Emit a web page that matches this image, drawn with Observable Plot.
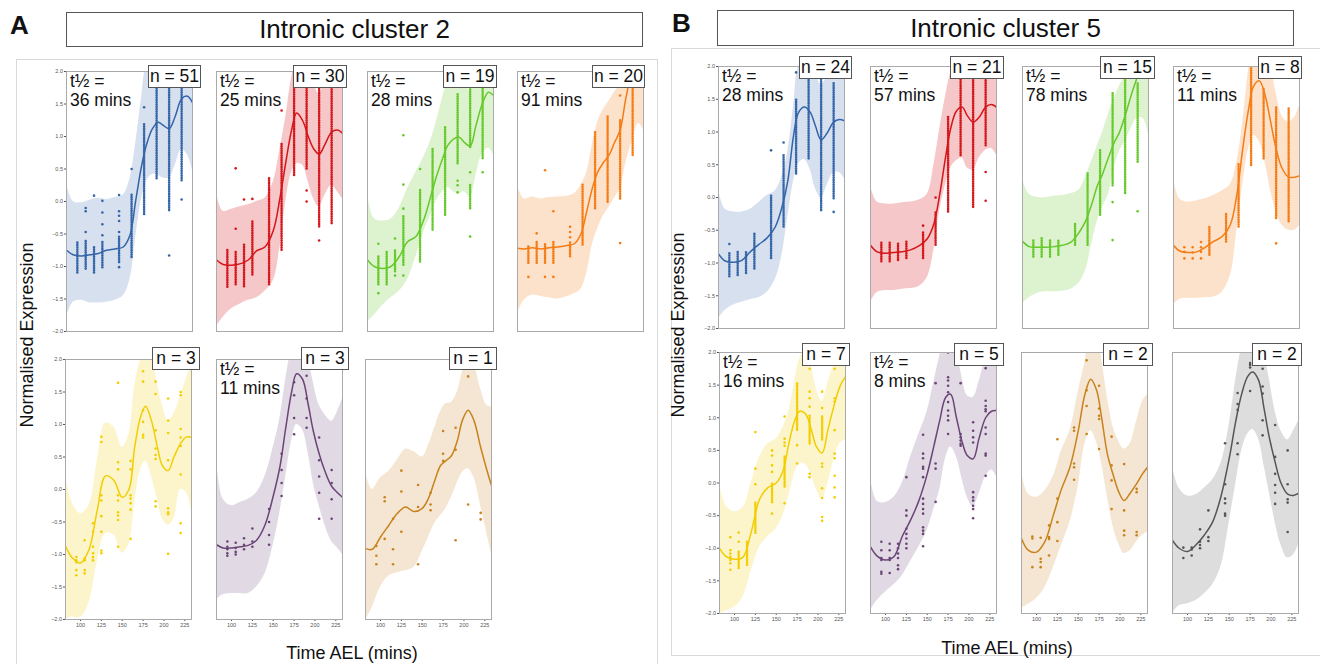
<!DOCTYPE html>
<html><head><meta charset="utf-8">
<script src="https://cdn.jsdelivr.net/npm/d3@7"></script>
<script src="https://cdn.jsdelivr.net/npm/@observablehq/plot@0.6"></script>
<style>
html,body{margin:0;padding:0;background:#fff;}
#root{position:relative;width:1320px;height:664px;overflow:hidden;font-family:"Liberation Sans",Arial,sans-serif;color:#111;}
.abs{position:absolute;}
.nb{position:absolute;height:21px;line-height:21px;background:#fff;border:1px solid #555;font-size:17.5px;text-align:center;box-sizing:content-box;}
.th{position:absolute;font-size:17.5px;line-height:19px;white-space:pre;}
.title{position:absolute;border:1px solid #555;font-size:26px;text-align:center;box-sizing:border-box;}
.letter{position:absolute;font-size:26px;font-weight:bold;line-height:26px;}
.ylab{position:absolute;width:300px;height:22px;line-height:22px;font-size:18px;text-align:center;transform:rotate(-90deg);}
.xlab{position:absolute;width:300px;line-height:18px;font-size:18px;text-align:center;}
.pborder{position:absolute;border:1px solid #d9d9d9;box-sizing:border-box;}
</style>
</head><body><div id="root"></div>
<script>
// ---------- shared axes / knots ----------
const knots = [82,90,100,110,120,130,140,150,158,165,172,178,185,192,198,205,212,220,227,233];
const xTicks = [100,125,150,175,200,225];
const yTicks = [-2,-1.5,-1,-0.5,0,0.5,1,1.5,2];
const titles = ["Intronic cluster 2","Intronic cluster 5"];
const nLabels = ["n = 51","n = 30","n = 19","n = 20","n = 3","n = 3","n = 1","n = 24","n = 21","n = 15","n = 8","n = 7","n = 5","n = 2","n = 2"];
const halfLives = ["36 mins","25 mins","28 mins","91 mins","","11 mins","","28 mins","57 mins","78 mins","11 mins","16 mins","8 mins","",""];

// ---------- Panel A ----------
const A1_mean = [-0.75,-0.82,-0.84,-0.82,-0.80,-0.75,-0.73,-0.70,-0.52,0.02,0.55,0.88,1.12,1.22,1.17,1.12,1.30,1.58,1.62,1.52];
const A1_lo = [-1.78,-1.55,-1.52,-1.56,-1.56,-1.55,-1.52,-1.45,-1.2,-0.55,0.05,0.32,0.42,0.40,0.36,0.36,0.55,0.80,0.72,0.48];
const A1_hi = [0.3,0.0,-0.02,0.02,0.05,0.03,0.06,0.1,0.35,0.9,1.6,2.1,2.2,2.1,2.0,1.95,2.1,2.4,2.5,2.6];
const A1_cols = [[95,-1.1,-0.62],[105,-1.04,-0.6],[115,-1.1,-0.7],[125,-1.02,-0.6],[145,-0.94,-0.55],[160,-0.86,0.1],[175,-0.2,1.2],[190,0.35,2.0],[205,-0.14,2.0],[220,0.32,2.0]];
const A1_pts = [[105,-0.1,-0.15,-0.47],[115,0.09],[125,0.01,-0.17,-0.35,-0.52],[145,0.1,-0.15,-0.22,-0.3,-0.47,-1.01],[160,0.5],[175,1.45],[205,-0.83],[220,0.03]];

const A2_mean = [-0.90,-0.97,-0.98,-0.96,-0.90,-0.76,-0.70,-0.45,0.05,0.6,1.1,1.36,1.25,1.0,0.82,0.73,0.88,1.07,1.1,1.05];
const A2_lo = [-1.92,-1.78,-1.65,-1.58,-1.52,-1.48,-1.38,-1.22,-0.7,0.0,0.45,0.58,0.56,0.3,0.05,-0.08,0.1,0.25,0.15,0.04];
const A2_hi = [0.12,-0.15,-0.12,-0.08,-0.05,0.0,0.05,0.3,0.8,1.3,1.9,2.2,2.2,2.05,1.85,1.65,1.9,2.15,2.1,2.1];
const A2_cols = [[95,-1.32,-0.72],[105,-1.28,-0.77],[115,-1.31,-0.65],[125,-1.13,-0.31],[145,-1.28,0.38],[160,-0.75,0.89],[175,0.4,2.0],[190,0.5,2.0],[205,-0.39,2.0],[220,-0.34,1.83]];
const A2_pts = [[105,-0.42,0.51],[115,0.03],[125,0.04],[160,1.4],[190,0.17,0.0],[205,-0.6]];

const A3_mean = [-0.90,-1.0,-1.03,-1.0,-0.85,-0.62,-0.54,-0.26,0.09,0.40,0.66,0.86,0.96,0.99,0.91,0.85,1.17,1.52,1.68,1.63];
const A3_lo = [-1.85,-1.75,-1.6,-1.48,-1.38,-1.2,-0.85,-0.45,-0.2,0.02,0.15,0.22,0.15,0.12,0.15,0.07,0.4,0.75,0.82,0.72];
const A3_hi = [0.12,-0.26,-0.3,-0.27,-0.1,0.2,0.45,0.7,0.95,1.25,1.6,1.85,2.0,1.95,1.85,1.7,1.95,2.3,2.5,2.5];
const A3_cols = [[95,-1.28,-0.82],[105,-1.28,-0.77],[115,-1.08,-0.75],[125,-0.98,-0.21],[145,-0.93,0.2],[160,-0.44,0.81],[175,-0.21,1.17],[190,0.58,1.65],[205,0.83,1.8],[205,-0.11,0.25],[220,0.66,1.98]];
const A3_pts = [[95,-0.65,-1.41],[115,-0.57,-1.14],[125,-0.11,0.26,1.02,-1.14],[145,0.5],[190,0.32,0.25,0.14],[205,0.45,-0.54],[220,0.45]];

const A4_mean = [-0.72,-0.73,-0.71,-0.73,-0.71,-0.70,-0.68,-0.65,-0.5,-0.15,0.22,0.45,0.6,0.72,0.9,1.1,1.6,2.05,2.3,2.4];
const A4_lo = [-1.72,-1.52,-1.44,-1.46,-1.48,-1.5,-1.47,-1.42,-1.35,-1.1,-0.65,-0.42,-0.22,-0.08,0.05,0.2,0.6,0.95,1.2,1.1];
const A4_hi = [0.25,0.04,0.07,0.04,0.06,0.07,0.08,0.12,0.25,0.45,0.9,1.22,1.42,1.55,1.68,1.8,2.2,2.6,2.8,2.9];
const A4_cols = [[95,-0.95,-0.67],[105,-0.95,-0.6],[115,-0.95,-0.65],[125,-0.95,-0.6],[145,-0.85,-0.62],[160,-0.67,0.25],[175,-0.11,1.07],[190,-0.01,1.3],[205,0.04,1.27],[220,0.71,1.98]];
const A4_pts = [[95,-1.16],[105,-0.49],[115,-1.16,0.48],[125,-1.16,-0.15],[145,-0.39,-0.47,-0.55],[205,-0.64,1.63]];

const A5_mean = [-0.87,-1.05,-1.13,-0.93,-0.32,0.21,0.14,-0.12,0.0,0.66,1.12,1.28,1.06,0.66,0.37,0.29,0.5,0.71,0.81,0.8];
const A5_lo = [-1.99,-1.96,-1.97,-1.75,-1.12,-0.68,-0.70,-0.98,-0.84,-0.2,0.3,0.44,0.2,-0.15,-0.45,-0.55,-0.45,0.0,-0.05,-0.35];
const A5_hi = [0.25,-0.2,-0.37,-0.25,0.44,1.02,0.96,0.65,0.85,1.6,2.0,2.15,2.0,1.65,1.3,1.06,1.17,1.45,1.72,1.94];
const A5_cols = [];
const A5_pts = [[95,-1.04,-1.09,-1.12,-1.24,-1.32],[105,-0.78,-1.06,-1.09,-1.24,-1.29],[115,-0.52,-0.65,-0.88,-0.98,-1.04,-1.09],[125,0.81,0.73,-0.09,-0.17,-0.41,-0.65,-0.94,-0.98],[145,1.64,0.42,0.31,-0.09,-0.17,-0.35,-0.4,-0.47,-0.88],[160,0.44,0.31,-0.09,-0.14,-0.21,-0.31,-0.76],[175,1.82,1.66,1.22,1.04,0.84,0.8],[190,1.66,1.47,0.91,0.63,0.53,0.47,-0.18,-0.26],[205,1.4,1.06,0.87,0.45,-0.29,-0.35,-0.38,-0.99],[220,1.5,1.45,0.93,0.8,0.67,0.23,-0.52,-0.67]];

const A6_mean = [-0.85,-0.9,-0.9,-0.88,-0.86,-0.78,-0.55,-0.1,0.35,0.95,1.5,1.78,1.7,1.3,0.9,0.55,0.28,0.05,-0.05,-0.12];
const A6_lo = [-1.7,-1.62,-1.6,-1.6,-1.6,-1.5,-1.3,-0.85,-0.35,0.2,0.75,1.0,0.92,0.55,0.1,-0.25,-0.55,-0.8,-0.9,-1.0];
const A6_hi = [0.5,-0.15,-0.25,-0.2,-0.15,-0.05,0.2,0.65,1.1,1.7,2.2,2.5,2.45,2.05,1.65,1.3,1.15,1.05,1.2,1.4];
const A6_cols = [];
const A6_pts = [[95,-0.8,-0.88,-0.92,-0.98,-1.02],[105,-0.82,-0.9,-0.96,-1.0],[115,-0.75,-0.85,-0.92],[125,-0.6,-0.8,-0.88],[145,-0.3,-0.5,-0.7,-0.85],[160,0.1,0.3,-0.1,0.55],[175,1.1,1.45,0.85,1.65],[190,1.75,1.4,1.1,0.95],[205,0.8,0.45,0.2,-0.05,-0.45],[220,0.3,0.1,-0.15,-0.45]];

const A7_mean = [-0.91,-0.92,-0.73,-0.55,-0.37,-0.27,-0.34,-0.29,-0.12,0.14,0.37,0.44,0.52,0.75,1.06,1.22,1.06,0.65,0.32,0.06];
const A7_lo = [-2.01,-1.82,-1.5,-1.33,-1.28,-1.25,-1.2,-0.95,-0.72,-0.52,-0.4,-0.3,-0.12,0.1,0.26,0.32,0.18,-0.25,-0.65,-0.99];
const A7_hi = [0.29,0.0,0.18,0.28,0.45,0.62,0.58,0.5,0.7,0.95,1.2,1.32,1.34,1.5,1.8,2.05,1.92,1.55,1.3,1.27];
const A7_cols = [];
const A7_pts = [[95,-0.87,-1.02,-1.15],[105,-0.12,-0.18,-0.76],[115,-0.45,-0.92,-1.15],[125,0.29,-0.03,-0.65],[145,0.07,-0.27,-1.15],[160,-0.05,-0.23,-0.32],[175,0.9,0.55,0.44],[190,0.95,0.61,-0.78],[205,1.74,-0.23],[220,-0.36,-0.46]];

// ---------- Panel B ----------
const B1_mean = [-0.86,-0.97,-0.99,-0.96,-0.83,-0.72,-0.62,-0.45,-0.15,0.25,0.95,1.3,1.38,1.3,1.1,0.88,0.98,1.15,1.19,1.17];
const B1_lo = [-1.85,-1.72,-1.64,-1.6,-1.56,-1.53,-1.45,-1.25,-0.88,-0.3,0.25,0.52,0.58,0.42,0.14,-0.01,0.18,0.38,0.38,0.28];
const B1_hi = [0.13,-0.18,-0.22,-0.22,-0.18,-0.08,0.03,0.1,0.32,0.7,1.4,2.0,2.1,2.05,1.9,1.72,1.85,2.1,2.1,2.1];
const B1_cols = [[95,-1.21,-0.83],[105,-1.19,-0.83],[115,-1.16,-0.81],[125,-1.09,-0.53],[145,-0.93,0.03],[160,-0.45,0.64],[175,0.36,1.5],[190,0.59,1.81],[205,-0.2,1.81],[220,-0.02,1.76]];
const B1_pts = [[95,-0.71],[145,0.72],[160,0.84],[175,1.91],[220,-0.22]];

const B2_mean = [-0.73,-0.83,-0.85,-0.84,-0.83,-0.8,-0.74,-0.63,-0.4,0.05,0.62,1.05,1.32,1.38,1.25,1.15,1.22,1.38,1.42,1.38];
const B2_lo = [-1.6,-1.45,-1.42,-1.42,-1.4,-1.39,-1.36,-1.22,-0.8,-0.2,0.2,0.45,0.56,0.6,0.45,0.42,0.6,0.72,0.75,0.65];
const B2_hi = [0.18,-0.07,-0.1,-0.1,-0.08,-0.07,-0.04,0.05,0.5,1.05,1.55,1.9,2.1,2.15,2.1,2.0,2.1,2.2,2.2,2.2];
const B2_cols = [[95,-0.98,-0.68],[105,-0.98,-0.68],[115,-0.96,-0.68],[125,-0.93,-0.68],[145,-0.93,-0.53],[160,-0.73,-0.22],[175,-0.22,1.22],[190,0.64,1.81],[205,-0.15,1.85],[220,0.79,1.81]];
const B2_pts = [[145,-0.43],[160,0.0],[220,0.39,-0.05]];

const B3_mean = [-0.67,-0.75,-0.76,-0.76,-0.75,-0.73,-0.68,-0.53,-0.35,-0.1,0.19,0.36,0.61,0.84,0.99,1.25,1.55,1.86,2.15,2.4];
const B3_lo = [-1.62,-1.53,-1.46,-1.44,-1.44,-1.43,-1.4,-1.3,-1.1,-0.7,-0.35,-0.15,0.05,0.45,0.7,0.86,1.05,1.22,1.2,0.95];
const B3_hi = [0.28,0.05,0.0,0.0,0.02,0.03,0.06,0.12,0.33,0.56,0.8,1.0,1.28,1.52,1.7,1.85,2.0,2.3,2.6,2.9];
const B3_cols = [[95,-0.91,-0.63],[105,-0.91,-0.6],[115,-0.91,-0.63],[125,-0.88,-0.65],[145,-0.73,-0.38],[160,-0.73,0.36],[175,-0.27,0.72],[190,0.18,1.6],[205,0.06,1.81],[220,0.54,1.76]];
const B3_pts = [[190,-0.07,-0.65],[220,-0.21]];

const B4_mean = [-0.73,-0.82,-0.84,-0.83,-0.76,-0.67,-0.6,-0.42,0.05,0.75,1.35,1.7,1.78,1.55,1.18,0.74,0.45,0.31,0.31,0.33];
const B4_lo = [-1.64,-1.55,-1.54,-1.54,-1.53,-1.52,-1.45,-1.2,-0.5,0.2,0.75,0.95,0.85,0.52,0.13,-0.22,-0.42,-0.5,-0.5,-0.43];
const B4_hi = [0.28,-0.03,-0.07,-0.05,-0.02,0.03,0.1,0.2,0.55,1.15,1.95,2.4,2.6,2.5,2.05,1.6,1.25,1.15,1.22,1.4];
const B4_cols = [[125,-0.88,-0.43],[145,-0.68,-0.25],[160,-0.45,0.5],[175,0.49,2.0],[190,0.59,1.65],[205,-0.32,1.38],[220,-0.37,1.38]];
const B4_pts = [[95,-0.76,-0.83,-0.93],[105,-0.76,-0.84,-0.93],[115,-0.68,-0.76,-0.83,-0.93],[205,-0.7]];

const B5_mean = [-1.0,-1.13,-1.17,-1.14,-0.75,-0.25,-0.07,0.0,0.18,0.6,0.95,1.1,1.06,0.82,0.56,0.46,0.82,1.22,1.5,1.63];
const B5_lo = [-2.0,-1.96,-1.9,-1.75,-1.35,-0.98,-0.82,-0.7,-0.5,-0.2,0.15,0.3,0.28,0.12,-0.1,-0.25,0.0,0.4,0.62,0.66];
const B5_hi = [0.0,-0.35,-0.44,-0.38,0.0,0.4,0.6,0.68,0.85,1.1,1.55,1.9,2.05,1.8,1.45,1.25,1.55,1.85,2.15,2.3];
const B5_cols = [[105,-1.31,-1.03],[115,-1.26,-0.88],[125,-0.77,-0.31],[145,-0.3,0.0],[160,-0.06,0.4],[175,0.81,1.55],[190,0.6,1.04],[205,0.66,1.02]];
const B5_pts = [[95,-0.83,-1.03,-1.08,-1.13,-1.18,-1.23,-1.33],[105,-0.76,-0.9],[125,0.78,0.22,-0.02],[145,0.5,0.42,0.27,0.17,-0.47],[160,1.02,0.68,0.62,0.57,-0.31],[175,0.58,0.3],[190,1.75,1.4,1.3,1.17,0.14,0.09],[205,1.4,1.15,0.3,0.25,-0.08,-0.23,-0.52,-0.58],[220,1.83,1.75,1.3,1.25,0.81,0.45,0.38,0.11,-0.07,-0.22]];

const B6_mean = [-0.98,-1.12,-1.18,-1.13,-0.82,-0.57,-0.27,0.14,0.57,0.96,1.31,1.36,1.0,0.62,0.42,0.37,0.68,1.0,1.1,1.11];
const B6_lo = [-1.95,-1.8,-1.67,-1.56,-1.42,-1.2,-0.98,-0.72,-0.4,-0.1,0.38,0.55,0.4,0.05,-0.22,-0.37,-0.17,0.1,0.2,0.1];
const B6_hi = [0.09,-0.28,-0.3,-0.22,0.0,0.4,0.75,1.1,1.55,1.95,2.3,2.35,2.05,1.6,1.34,1.31,1.55,1.9,2.05,2.05];
const B6_cols = [];
const B6_pts = [[95,-0.9,-1.03,-1.15,-1.18,-1.36,-1.39],[105,-0.93,-1.03,-1.15,-1.18,-1.38],[115,-0.93,-1.0,-1.08,-1.15,-1.26,-1.32],[125,0.09,-0.42,-0.5,-0.7,-0.78,-0.85,-0.93,-1.0],[145,0.74,0.45,0.38,0.25,0.22,0.09,-0.24,-0.32,-0.4,-0.47,-0.68,-0.73,-0.78,-0.97],[160,1.53,0.3,0.22,-0.29],[175,2.0,1.62,1.57,1.49,1.39,1.24,1.11,1.03,0.96,0.75],[190,1.53,0.75,0.7,0.65,0.6,0.57],[205,0.93,0.8,0.7,0.62,-0.14,-0.22,-0.27,-0.35,-0.4,-0.54],[220,1.76,1.26,1.18,1.13,1.1,0.85,0.75,0.45,0.42,0.11]];

const B7_mean = [-0.85,-1.03,-1.06,-0.9,-0.5,-0.09,0.24,0.8,1.36,1.59,1.42,1.0,0.44,0.12,-0.12,-0.27,-0.16,-0.01,0.14,0.24];
const B7_lo = [-1.92,-1.86,-1.77,-1.6,-1.3,-0.95,-0.6,-0.05,0.6,0.8,0.62,0.3,-0.22,-0.68,-0.92,-1.08,-1.04,-0.9,-0.8,-0.75];
const B7_hi = [0.19,-0.17,-0.22,-0.12,0.1,0.5,0.8,1.4,1.85,2.35,2.3,1.9,1.31,0.85,0.65,0.52,0.6,0.95,1.25,1.36];
const B7_cols = [];
const B7_pts = [[95,-0.82,-0.85,-1.29],[105,-0.84,-1.16,-1.21,-1.29],[115,-0.65,-0.83,-0.86,-1.11],[125,0.67,-0.24,-0.6,-0.89],[145,0.85,0.8,0.3,0.24,0.05],[160,1.88,1.42,1.18,0.75],[175,1.49,1.14,1.03,0.98,0.52],[190,0.71,0.27,0.04,-0.4],[205,0.29,-0.42,-0.73,-0.8],[220,-0.09,-0.14,-0.75,-0.8]];

const B8_mean = [-0.88,-1.0,-1.05,-0.95,-0.8,-0.6,-0.21,0.38,0.96,1.37,1.63,1.7,1.58,1.12,0.7,0.32,0.0,-0.17,-0.19,-0.16];
const B8_lo = [-2.0,-1.88,-1.85,-1.8,-1.7,-1.56,-1.28,-0.6,0.0,0.5,0.75,0.82,0.68,0.25,-0.15,-0.6,-0.95,-1.15,-1.1,-0.95];
const B8_hi = [0.25,-0.08,-0.2,-0.18,-0.08,0.05,0.3,0.9,1.6,2.1,2.45,2.55,2.45,2.0,1.6,1.1,0.8,0.66,0.8,0.95];
const B8_cols = [];
const B8_pts = [[95,-0.99,-1.15],[105,-0.99,-1.02,-1.11],[115,-0.71,-0.9,-0.95,-1.0],[125,-0.42,-0.83,-0.89],[145,0.61,-0.02,-0.24,-0.31,-0.47,-0.5],[160,1.38,1.21,1.12,0.61,0.44],[175,1.84,1.81,1.77,1.41],[190,1.75,1.48,1.37,0.96,0.73],[205,0.89,0.4,0.14,-0.03,-0.15,-0.32],[220,0.5,-0.02,-0.25,-0.3,-0.75]];

// ---------- styles / layout ----------
const C = {blue:"#3465a8", red:"#d4161b", green:"#66c92a", orange:"#f57c14", yellow:"#f2cd00", purple:"#6b4577", brown:"#c8821e", gray:"#555555"};
const series = [
  [A1_mean,A1_lo,A1_hi,A1_cols,A1_pts,C.blue,0.2],
  [A2_mean,A2_lo,A2_hi,A2_cols,A2_pts,C.red,0.24],
  [A3_mean,A3_lo,A3_hi,A3_cols,A3_pts,C.green,0.22],
  [A4_mean,A4_lo,A4_hi,A4_cols,A4_pts,C.orange,0.22],
  [A5_mean,A5_lo,A5_hi,A5_cols,A5_pts,C.yellow,0.2],
  [A6_mean,A6_lo,A6_hi,A6_cols,A6_pts,C.purple,0.2],
  [A7_mean,A7_lo,A7_hi,A7_cols,A7_pts,C.brown,0.2],
  [B1_mean,B1_lo,B1_hi,B1_cols,B1_pts,C.blue,0.2],
  [B2_mean,B2_lo,B2_hi,B2_cols,B2_pts,C.red,0.24],
  [B3_mean,B3_lo,B3_hi,B3_cols,B3_pts,C.green,0.22],
  [B4_mean,B4_lo,B4_hi,B4_cols,B4_pts,C.orange,0.22],
  [B5_mean,B5_lo,B5_hi,B5_cols,B5_pts,C.yellow,0.2],
  [B6_mean,B6_lo,B6_hi,B6_cols,B6_pts,C.purple,0.2],
  [B7_mean,B7_lo,B7_hi,B7_cols,B7_pts,C.brown,0.2],
  [B8_mean,B8_lo,B8_hi,B8_cols,B8_pts,C.gray,0.2]
];
// frame left, frame top, frame height, y axis, x axis, n-box right, n-box top, n-box width
const layout = [
  [66,71,260,true,false,201,65,53],
  [216,71,260,false,false,347,65,54],
  [367,71,260,false,false,497,65,54],
  [517,71,260,false,false,645,65,53],
  [65,359,260,true,true,200,347,48],
  [216,359,260,false,true,349,347,48],
  [365,359,260,false,true,497,347,48],
  [718,66,262,true,false,852,56,53],
  [870,66,262,false,false,1004,56,54],
  [1022,66,262,false,false,1155,56,55],
  [1173,66,262,false,false,1302,56,44],
  [719,352,261,true,true,850,343,48],
  [870,352,261,false,true,1004,343,50],
  [1021,352,261,false,true,1153,343,50],
  [1172,352,261,false,true,1302,343,50]
];

const root = document.getElementById("root");
function el(cls, style, text){ const d=document.createElement("div"); d.className=cls; Object.assign(d.style, style); if(text!==undefined) d.textContent=text; root.appendChild(d); return d; }

// panel borders
el("pborder",{left:"16px",top:"59px",width:"642px",height:"640px"});
el("pborder",{left:"671px",top:"48px",width:"660px",height:"608px"});
// letters and titles
el("letter",{left:"10px",top:"12px"},"A");
el("letter",{left:"672px",top:"10px"},"B");
el("title",{left:"66px",top:"12px",width:"577px",height:"35px",lineHeight:"33px"},titles[0]);
el("title",{left:"717px",top:"10px",width:"577px",height:"36px",lineHeight:"34px"},titles[1]);
// axis labels
el("ylab",{left:(27-150)+"px",top:(335-11)+"px"},"Normalised Expression");
el("ylab",{left:(678-150)+"px",top:(325-11)+"px"},"Normalised Expression");
el("xlab",{left:(352-150)+"px",top:"644px"},"Time AEL (mins)");
el("xlab",{left:(1007-150)+"px",top:"639px"},"Time AEL (mins)");

const ML=20, MR=4, MT=3, MB=14, FW=126;
series.forEach((s,i)=>{
  const [mean,lo,hi,cols,pts,color,op] = s;
  const [fx,fy,fh,yAx,xAx,nbR,nbT,nbW] = layout[i];
  const band = knots.map((t,k)=>({t, m:mean[k], lo:lo[k], hi:hi[k]}));
  const colData = cols.map(([t,a,b])=>({t, lo:a, hi:b}));
  const dotData = pts.flatMap(([t,...vs])=>vs.map(v=>({t, v})));
  const chart = Plot.plot({
    width: ML+FW+MR, height: MT+fh+MB,
    marginLeft: ML, marginRight: MR, marginTop: MT, marginBottom: MB,
    style: {fontSize:"5.5px", color:"#555", fontFamily:"'Liberation Sans', Arial, sans-serif", background:"transparent", overflow:"visible"},
    x: {domain:[82,233], ticks:xTicks, tickSize:2, tickPadding:1.5, label:null, axis: xAx ? "bottom" : null},
    y: {domain:[-2,2], ticks:yTicks, tickFormat:d3.format(".1f"), tickSize:2, tickPadding:1.5, label:null, axis: yAx ? "left" : null},
    marks: [
      Plot.areaY(band, {x:"t", y1:"lo", y2:"hi", curve:"catmull-rom", fill:color, fillOpacity:op, clip:true}),
      Plot.ruleX(colData, {x:"t", y1:"lo", y2:"hi", stroke:color, strokeWidth:2.6, strokeLinecap:"round", strokeDasharray:"0,2.3", clip:true}),
      Plot.dot(dotData, {x:"t", y:"v", r:1.3, fill:color, stroke:"none", clip:true}),
      Plot.lineY(band, {x:"t", y:"m", curve:"catmull-rom", stroke:color, strokeWidth:1.5, clip:true}),
      Plot.frame({stroke:"#aaa", strokeWidth:1})
    ]
  });
  const holder = el("abs",{left:(fx-ML)+"px", top:(fy-MT)+"px", width:(ML+FW+MR)+"px", height:(MT+fh+MB)+"px"});
  holder.appendChild(chart);
  if (halfLives[i]) el("th",{left:(fx+4)+"px", top:(fy+1)+"px"},"t½ =\n"+halfLives[i]);
  el("nb",{left:(nbR-nbW)+"px", top:nbT+"px", width:(nbW-2)+"px"}, nLabels[i]);
});
</script>
</body></html>
